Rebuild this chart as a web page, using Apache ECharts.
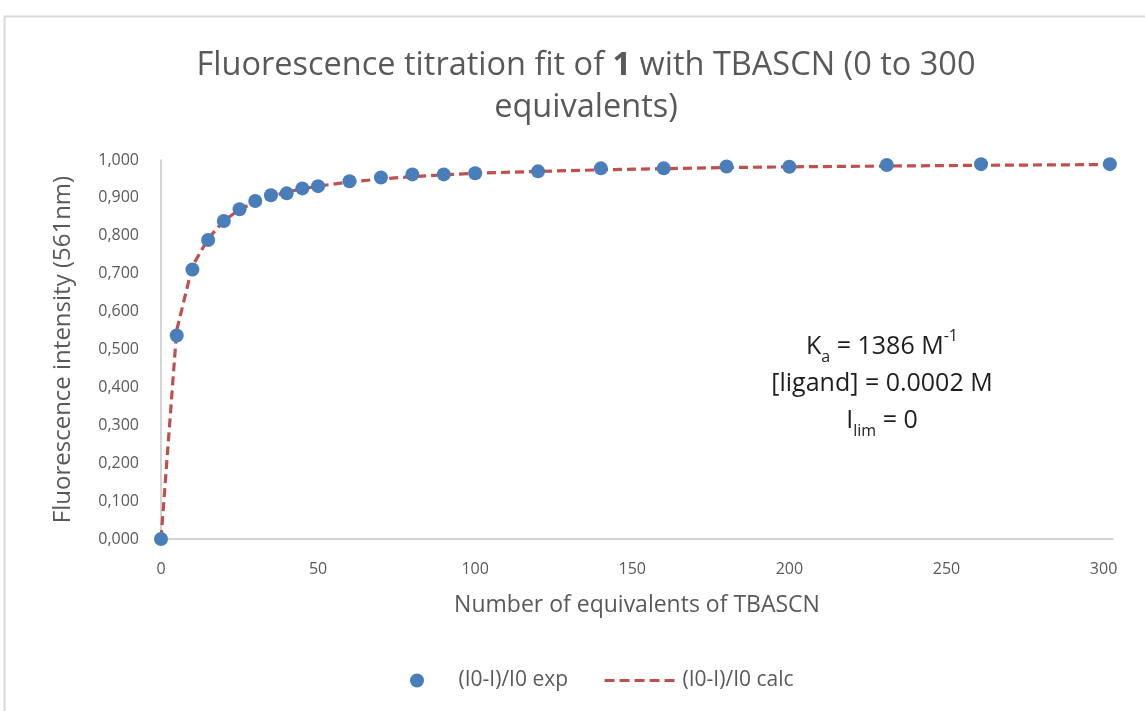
<!DOCTYPE html>
<html>
<head>
<meta charset="utf-8">
<script src="https://cdn.jsdelivr.net/npm/echarts@6/dist/echarts.min.js"></script>
<style>
  html, body { margin: 0; padding: 0; background: #ffffff; }
  #chart { width: 1145px; height: 711px; }
</style>
</head>
<body>
<div id="chart"></div>
<script>
// Equivalents of TBASCN added
const equivalents = [0, 5, 10, 15, 20, 25, 30, 35, 40, 45, 50, 60, 70, 80, 90, 100, 120, 140, 160, 180, 200, 231, 261, 302];
// Measured (I0-I)/I0
const expValues = [0, 0.537, 0.711, 0.789, 0.839, 0.870, 0.892, 0.907, 0.912, 0.925, 0.931, 0.944, 0.954, 0.962, 0.962, 0.965, 0.970, 0.978, 0.978, 0.983, 0.982, 0.987, 0.989, 0.989];
// Fitted (I0-I)/I0
const calcValues = [0, 0.551, 0.720, 0.792, 0.840, 0.869, 0.889, 0.904, 0.915, 0.924, 0.931, 0.942, 0.950, 0.956, 0.961, 0.965, 0.970, 0.974, 0.977, 0.980, 0.982, 0.984, 0.986, 0.988];
// Axis ticks
const xTicks = [0, 50, 100, 150, 200, 250, 300];
const yTicks = [0, 0.1, 0.2, 0.3, 0.4, 0.5, 0.6, 0.7, 0.8, 0.9, 1.0];

const FONT = 'Open Sans';
const TEXT = '#595959';
const INK = '#1e1e1e';

const expData = equivalents.map((x, i) => [x, expValues[i]]);
const calcData = equivalents.map((x, i) => [x, calcValues[i]]);

const chart = echarts.init(document.getElementById('chart'));
chart.setOption({
  backgroundColor: '#ffffff',
  animation: false,
  textStyle: { fontFamily: FONT },
  title: {
    text: 'Fluorescence titration fit of {b|1} with TBASCN (0 to 300\nequivalents)',
    left: 581,
    top: 40,
    textAlign: 'center',
    textStyle: {
      fontFamily: FONT,
      fontSize: 32.5,
      fontWeight: 'normal',
      color: TEXT,
      lineHeight: 42,
      rich: {
        b: { fontFamily: FONT, fontSize: 32.5, fontWeight: 'bold', color: TEXT, lineHeight: 42 }
      }
    }
  },
  legend: {
    bottom: 15,
    left: 405,
    itemWidth: 73,
    itemHeight: 14,
    itemGap: 35,
    textStyle: { fontFamily: FONT, fontSize: 21, color: TEXT },
    data: [
      { name: '(I0-I)/I0 exp', icon: 'circle' },
      { name: '(I0-I)/I0 calc', itemStyle: { opacity: 0 }, lineStyle: { width: 3, type: [10, 5] } }
    ]
  },
  grid: { left: 161, right: 32, top: 160, bottom: 172 },
  xAxis: {
    type: 'value',
    min: 0,
    max: 303,
    interval: 50,
    name: 'Number of equivalents of TBASCN',
    nameLocation: 'middle',
    nameGap: 55,
    nameTextStyle: { fontFamily: FONT, fontSize: 23, color: TEXT },
    axisLine: { show: true, lineStyle: { color: '#c6c6c6', width: 1.5 } },
    axisTick: { show: false },
    splitLine: { show: false },
    axisLabel: {
      fontFamily: FONT, fontSize: 16, color: TEXT, margin: 22,
      showMaxLabel: false,
      formatter: v => (xTicks.indexOf(v) >= 0 ? String(v) : '')
    }
  },
  yAxis: {
    type: 'value',
    min: yTicks[0],
    max: yTicks[yTicks.length - 1],
    interval: 0.1,
    name: 'Fluorescence intensity (561nm)',
    nameLocation: 'middle',
    nameGap: 86,
    nameTextStyle: { fontFamily: FONT, fontSize: 24, color: TEXT },
    axisLine: { show: true, lineStyle: { color: '#c6c6c6', width: 1.5 } },
    axisTick: { show: false },
    splitLine: { show: false },
    axisLabel: {
      fontFamily: FONT, fontSize: 16, color: TEXT, margin: 22,
      formatter: v => v.toFixed(3).replace('.', ',')
    }
  },
  series: [
    {
      name: '(I0-I)/I0 calc',
      type: 'line',
      data: calcData,
      showSymbol: false,
      symbol: 'none',
      smooth: false,
      z: 2,
      lineStyle: { color: '#C0504D', width: 3.2, type: [9, 5] },
      itemStyle: { color: '#C0504D' }
    },
    {
      name: '(I0-I)/I0 exp',
      type: 'scatter',
      data: expData,
      symbol: 'circle',
      symbolSize: 14,
      z: 3,
      itemStyle: { color: '#4A7EBB', opacity: 1 }
    }
  ],
  graphic: [
    {
      type: 'rect',
      silent: true,
      shape: { x: 4.5, y: 16.5, width: 1300, height: 900 },
      style: { fill: 'none', stroke: '#d9d9d9', lineWidth: 2 }
    },
    {
      type: 'text',
      x: 882,
      y: 328,
      silent: true,
      style: {
        text: 'K{sub|a} = 1386 M{sup|-1}\n[ligand] = 0.0002 M\nI{sub|lim} = 0',
        align: 'center',
        verticalAlign: 'top',
        fontFamily: FONT,
        fontSize: 25,
        lineHeight: 37,
        fill: INK,
        rich: {
          sub: { fontFamily: FONT, fontSize: 16, verticalAlign: 'bottom', padding: [16, 0, 0, 0], fill: INK },
          sup: { fontFamily: FONT, fontSize: 16, verticalAlign: 'top', padding: [0, 0, 12, 0], fill: INK }
        }
      }
    }
  ]
});
</script>
</body>
</html>
